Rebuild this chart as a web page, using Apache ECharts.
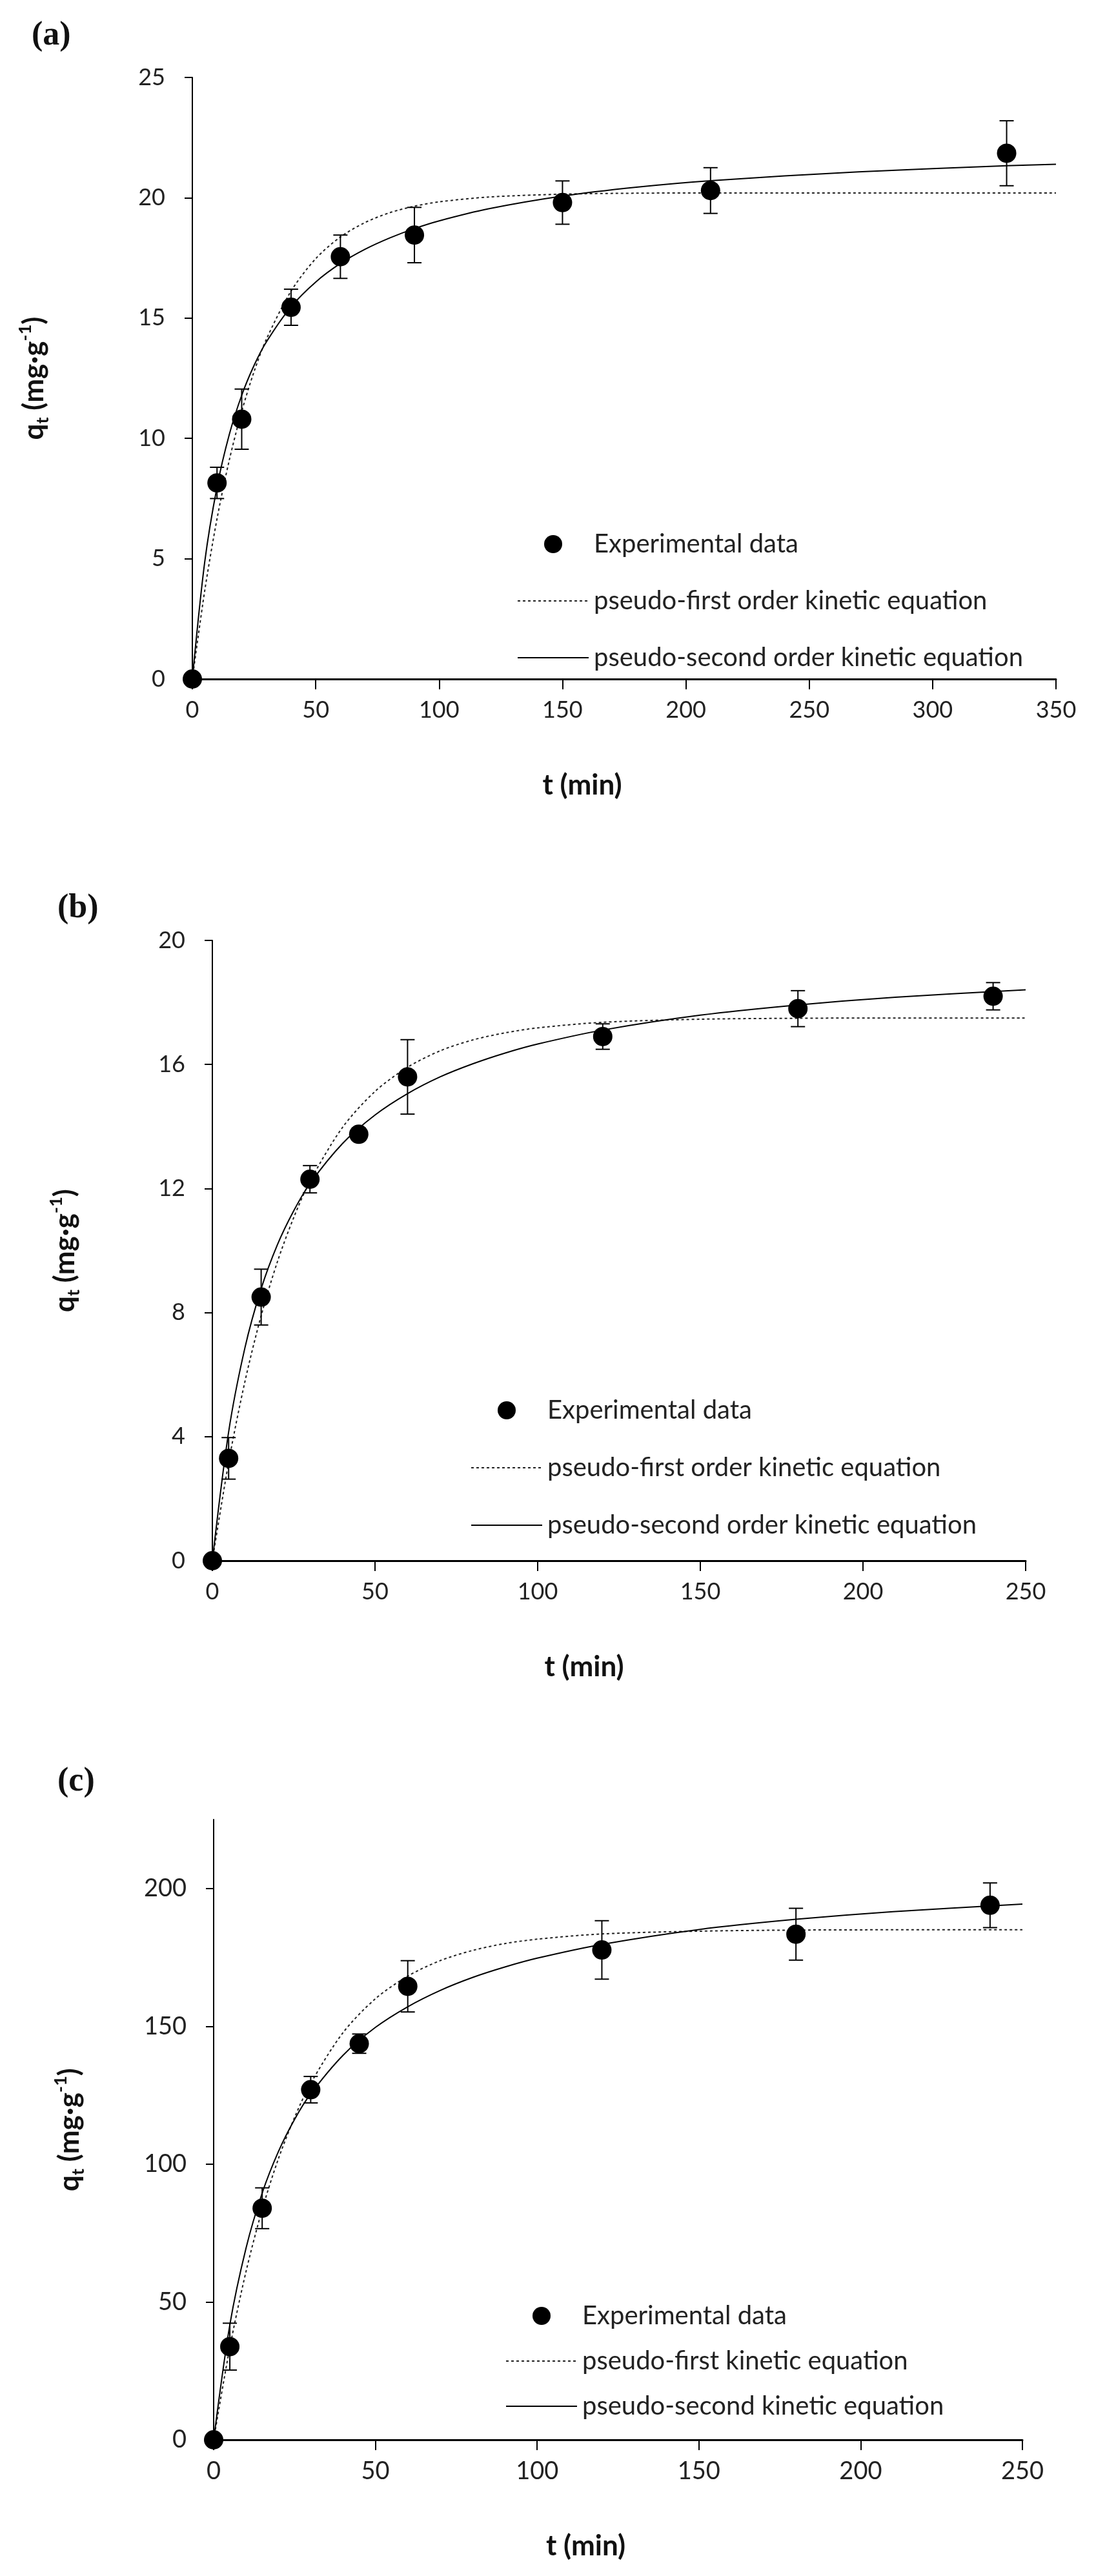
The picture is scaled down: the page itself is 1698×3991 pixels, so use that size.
<!DOCTYPE html>
<html>
<head>
<meta charset="utf-8">
<title>kinetics</title>
<script src="https://cdn.jsdelivr.net/npm/echarts@6.0.0/dist/echarts.min.js"></script>
<style>
  html, body { margin: 0; padding: 0; background: #fff; }
  #main { width: 1698px; height: 3991px; }
</style>
</head>
<body>
<div id="main"></div>
<script>
// ---- panel (a) ----
var tA = [0, 10, 20, 40, 60, 90, 150, 210, 330];
var qA = [0, 8.15, 10.8, 15.45, 17.55, 18.45, 19.8, 20.3, 21.85];
var errA = [0, 0.65, 1.25, 0.75, 0.9, 1.15, 0.9, 0.95, 1.35];
var fitTA = [0, 5, 10, 15, 20, 25, 30, 40, 50, 60, 70, 80, 90, 100, 120, 150, 180, 210, 270, 330, 350];
var pfoA = [0, 3.66, 6.66, 9.11, 11.12, 12.77, 14.12, 16.12, 17.47, 18.37, 18.97, 19.38, 19.65, 19.83, 20.03, 20.15, 20.19, 20.2, 20.2, 20.2, 20.2];
var psoA = [0, 4.85, 7.98, 10.17, 11.79, 13.03, 14.01, 15.47, 16.5, 17.27, 17.86, 18.33, 18.72, 19.04, 19.54, 20.07, 20.44, 20.71, 21.08, 21.33, 21.39];

// ---- panel (b) ----
var tB = [0, 5, 15, 30, 45, 60, 120, 180, 240];
var qB = [0, 3.3, 8.5, 12.3, 13.75, 15.6, 16.9, 17.8, 18.2];
var errB = [0, 0.67, 0.9, 0.44, 0.2, 1.2, 0.41, 0.58, 0.44];
var fitTB = [0, 5, 10, 15, 20, 25, 30, 40, 50, 60, 70, 80, 90, 100, 120, 150, 180, 210, 250];
var pfoB = [0, 3.17, 5.77, 7.9, 9.64, 11.06, 12.23, 13.97, 15.13, 15.91, 16.44, 16.79, 17.02, 17.18, 17.36, 17.46, 17.49, 17.5, 17.5];
var psoB = [0, 4.15, 6.86, 8.77, 10.19, 11.28, 12.16, 13.45, 14.37, 15.06, 15.6, 16.02, 16.37, 16.66, 17.11, 17.59, 17.92, 18.17, 18.41];

// ---- panel (c) ----
var tC = [0, 5, 15, 30, 45, 60, 120, 180, 240];
var qC = [0, 33.8, 84, 127, 143.7, 164.5, 177.7, 183.4, 193.9];
var errC = [0, 8.5, 7.4, 4.8, 3.5, 9.3, 10.6, 9.4, 8.1];
var fitTC = [0, 5, 10, 15, 20, 25, 30, 40, 50, 60, 70, 80, 90, 100, 120, 150, 180, 210, 250];
var pfoC = [0, 33.5, 61.0, 83.5, 101.9, 116.9, 129.3, 147.7, 160.0, 168.2, 173.8, 177.5, 180.0, 181.6, 183.5, 184.5, 184.9, 185, 185];
var psoC = [0, 41.7, 69.5, 89.5, 104.5, 116.2, 125.5, 139.5, 149.6, 157.1, 163.0, 167.7, 171.5, 174.7, 179.7, 185.1, 188.8, 191.6, 194.3];

// tick labels
var xTicksA = [0, 50, 100, 150, 200, 250, 300, 350];
var xTicksBC = [0, 50, 100, 150, 200, 250];
var yTicksA = [0, 5, 10, 15, 20, 25];
var yTicksB = [0, 4, 8, 12, 16, 20];
var yTicksC = [0, 50, 100, 150, 200];

var legA = ['Experimental data', 'pseudo-first order kinetic equation', 'pseudo-second order kinetic equation'];
var legC = ['Experimental data ', 'pseudo-first kinetic equation', 'pseudo-second kinetic equation'];

var FONT = 'Lato';

function pairs(xs, ys) {
  var out = [];
  for (var i = 0; i < xs.length; i++) out.push([xs[i], ys[i]]);
  return out;
}

function errData(xs, ys, es) {
  var out = [];
  for (var i = 0; i < xs.length; i++) {
    if (es[i] > 0) out.push([xs[i], ys[i] - es[i], ys[i] + es[i]]);
  }
  return out;
}

// error bar with caps
function renderErr(params, api) {
  var x = api.value(0);
  var lo = api.coord([x, api.value(1)]);
  var hi = api.coord([x, api.value(2)]);
  var w = 11;
  var st = { stroke: '#000', lineWidth: 2 };
  return {
    type: 'group',
    children: [
      { type: 'line', shape: { x1: lo[0], y1: lo[1], x2: hi[0], y2: hi[1] }, style: st },
      { type: 'line', shape: { x1: lo[0] - w, y1: lo[1], x2: lo[0] + w, y2: lo[1] }, style: st },
      { type: 'line', shape: { x1: hi[0] - w, y1: hi[1], x2: hi[0] + w, y2: hi[1] }, style: st }
    ]
  };
}

var yName = '{q|q}{sub|t}{q| (mg·g}{sup|-1}{q|)}';
var yRich = {
  q: { fontSize: 44, lineHeight: 54, fontWeight: 'bold', fontFamily: FONT, color: '#111' },
  sub: { fontSize: 27, lineHeight: 27, verticalAlign: 'bottom', fontWeight: 'bold', fontFamily: FONT, color: '#111' },
  sup: { fontSize: 27, lineHeight: 27, verticalAlign: 'top', fontWeight: 'bold', fontFamily: FONT, color: '#111' }
};

function xAxisOf(idx, max, ticks, padRight, fs) {
  return {
    type: 'value', gridIndex: idx, min: 0, max: max, interval: 50,
    name: 't (min)', nameLocation: 'middle', nameGap: 143,
    nameTextStyle: { fontSize: 44, fontWeight: 'bold', fontFamily: FONT, color: '#111', padding: [0, padRight, 0, 0] },
    axisLine: { onZero: false, lineStyle: { color: '#000', width: 3 } },
    axisTick: { show: true, inside: false, length: 16, lineStyle: { color: '#000', width: 2 } },
    axisLabel: { margin: 30, fontSize: fs, fontFamily: FONT, color: '#222', customValues: ticks },
    splitLine: { show: false }
  };
}

function yAxisOf(idx, max, interval, ticks, gap, fs) {
  return {
    type: 'value', gridIndex: idx, min: 0, max: max, interval: interval,
    name: yName, nameLocation: 'middle', nameGap: gap, nameRotate: 90,
    nameTextStyle: { rich: yRich },
    axisLine: { onZero: false, lineStyle: { color: '#000', width: 2 } },
    axisTick: { show: true, inside: false, length: 12, lineStyle: { color: '#000', width: 2 }, customValues: ticks },
    axisLabel: { margin: 42, fontSize: fs, fontFamily: FONT, color: '#222', customValues: ticks },
    splitLine: { show: false }
  };
}

function legendOf(left, top, gap, names) {
  return {
    orient: 'vertical', left: left, top: top, itemGap: gap,
    itemWidth: 110, itemHeight: 28, selectedMode: false,
    textStyle: { fontSize: 40, lineHeight: 42, fontFamily: FONT, color: '#222', padding: [0, 0, 0, 3] },
    data: names
  };
}

function panelSeries(idx, names, t, q, err, fitT, pfo, pso) {
  return [
    {
      name: names[1], type: 'line', xAxisIndex: idx, yAxisIndex: idx,
      data: pairs(fitT, pfo), smooth: 0.3, symbol: 'none',
      itemStyle: { color: 'rgba(0,0,0,0)', borderWidth: 0 },
      lineStyle: { color: '#222', width: 2, type: [4, 4] }, z: 2
    },
    {
      name: names[2], type: 'line', xAxisIndex: idx, yAxisIndex: idx,
      data: pairs(fitT, pso), smooth: 0.3, symbol: 'none',
      itemStyle: { color: 'rgba(0,0,0,0)', borderWidth: 0 },
      lineStyle: { color: '#000', width: 2 }, z: 3
    },
    {
      type: 'custom', xAxisIndex: idx, yAxisIndex: idx,
      data: errData(t, q, err), renderItem: renderErr,
      encode: { x: 0, y: [1, 2] }, z: 4
    },
    {
      name: names[0], type: 'scatter', xAxisIndex: idx, yAxisIndex: idx,
      data: pairs(t, q), symbol: 'circle', symbolSize: 30,
      itemStyle: { color: '#000', opacity: 1 }, z: 5
    }
  ];
}

var myChart = echarts.init(document.getElementById('main'), null, { renderer: 'canvas' });

var option = {
  backgroundColor: '#fff',
  animation: false,
  graphic: [
    { type: 'text', left: 49, top: 30, style: { text: '(a)', font: 'bold 52px "Liberation Serif"', fill: '#111' } },
    { type: 'text', left: 89, top: 1382, style: { text: '(b)', font: 'bold 52px "Liberation Serif"', fill: '#111' } },
    { type: 'text', left: 89, top: 2735, style: { text: '(c)', font: 'bold 52px "Liberation Serif"', fill: '#111' } }
  ],
  grid: [
    { left: 298, top: 120, width: 1338, height: 932 },
    { left: 329, top: 1457, width: 1260, height: 961 },
    { left: 331, top: 2819, width: 1253, height: 961 }
  ],
  legend: [
    legendOf(796, 817, 46, legA),
    legendOf(724, 2159, 47, legA),
    legendOf(778, 3562, 28, legC)
  ],
  xAxis: [
    xAxisOf(0, 350, xTicksA, 130, 36),
    xAxisOf(1, 250, xTicksBC, 108, 36),
    xAxisOf(2, 250, xTicksBC, 100, 38)
  ],
  yAxis: [
    yAxisOf(0, 25, 5, yTicksA, 218, 36),
    yAxisOf(1, 20, 4, yTicksB, 201, 36),
    yAxisOf(2, 225, 25, yTicksC, 196, 38)
  ],
  series: []
};

option.series = option.series
  .concat(panelSeries(0, legA, tA, qA, errA, fitTA, pfoA, psoA))
  .concat(panelSeries(1, legA, tB, qB, errB, fitTB, pfoB, psoB))
  .concat(panelSeries(2, legC, tC, qC, errC, fitTC, pfoC, psoC));

myChart.setOption(option);
</script>
</body>
</html>
